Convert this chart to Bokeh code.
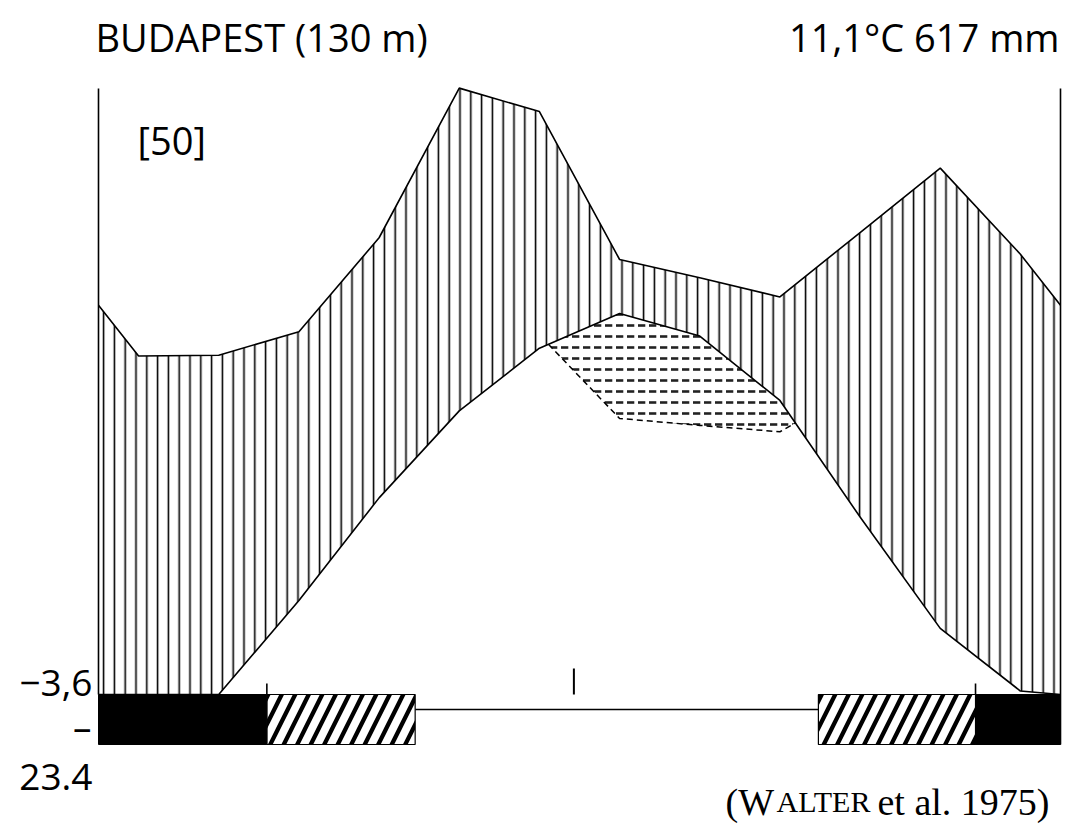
import numpy as np
from bokeh.plotting import figure
from bokeh.models import Range1d
from bokeh.core.properties import value
from bokeh.embed import file_html
from bokeh.resources import INLINE

# ---------------- data ----------------
months = ["Jan", "Feb", "Mar", "Apr", "May", "Jun",
          "Jul", "Aug", "Sep", "Oct", "Nov", "Dec"]
precip_mm = [38.9, 39.0, 41.7, 52.5, 69.7, 67.0, 50.0, 47.9, 45.7, 53.1, 60.5, 50.6]
temp_c = [-1.5, 0.0, 5.4, 11.3, 16.3, 19.9, 21.9, 20.6, 16.9, 10.2, 3.8, 0.2]

# dashed precipitation curve at the reduced scale (10 °C = 30 mm), Jun..Oct
dry_months = ["Jun", "Jul", "Aug", "Sep", "Oct"]
dry_curve_mm = [62.0, 47.6, 46.4, 45.3, 53.1]

# frost bar below the baseline (in months from 1 Jan)
cold_periods = [(0.0, 2.1), (10.94, 12.0)]      # mean daily minimum below 0 (black)
frost_periods = [(2.1, 3.95), (8.98, 10.94)]    # absolute minimum below 0 (hatched)
short_ticks = [2.1, 10.94]
long_ticks = [5.93]

station_label = "BUDAPEST (130 m)"
summary_label = "11,1°C 617 mm"
years_label = "[50]"
min_label = "\u22123,6"
abs_min_dash = "\u2013"
abs_min_label = "23.4"

# ---------------- geometry helpers (page px -> data) ----------------
PX_LEFT, PX_RIGHT, PX_BASE = 98.0, 1060.0, 694.0
PX_PER_MONTH = (PX_RIGHT - PX_LEFT) / 12.0
PX_PER_DEG = 17.4
W, H = 1064, 827
TDY = 12  # text baseline correction (px)


def X(px):
    return (px - PX_LEFT) / PX_PER_MONTH


def Y(py):
    return (PX_BASE - py) / PX_PER_DEG


def TY(py):
    return Y(py - TDY)


# Walter scale: 10 °C = 20 mm ; dry curve 10 °C = 30 mm
def wrap(vals):
    v = list(vals)
    edge = (v[0] + v[-1]) / 2.0
    return np.array([edge] + v + [edge])


xm = np.array([0.0] + list(np.arange(12) + 0.5) + [12.0])
prec = wrap(precip_mm) / 2.0
temp = np.maximum(wrap(temp_c), 0.0)

dry_idx = [months.index(m) for m in dry_months]
dry_x = np.array([i + 0.5 for i in dry_idx])
dry = np.array(dry_curve_mm) / 3.0
temp_on_dry = np.array([temp_c[i] for i in dry_idx])


def positive_regions(x, a, b):
    regions = []
    xs = top = bot = None
    for i in range(len(x)):
        d = a[i] - b[i]
        if i > 0:
            d0 = a[i - 1] - b[i - 1]
            if (d0 > 0) != (d > 0):
                t = d0 / (d0 - d)
                xc = x[i - 1] + t * (x[i] - x[i - 1])
                yc = a[i - 1] + t * (a[i] - a[i - 1])
                if d > 0:
                    xs, top, bot = [xc], [yc], [yc]
                else:
                    xs.append(xc); top.append(yc); bot.append(yc)
                    regions.append((xs, top, bot))
                    xs = None
        if d > 0:
            if xs is None:
                xs, top, bot = [], [], []
            xs.append(x[i]); top.append(a[i]); bot.append(b[i])
    if xs:
        regions.append((xs, top, bot))
    return regions


p = figure(width=W, height=H, output_backend="svg", toolbar_location=None,
           x_range=Range1d(X(0), X(W)), y_range=Range1d(Y(H), Y(0)),
           min_border=0, outline_line_color=None, x_axis_type=None, y_axis_type=None)
p.xgrid.visible = False
p.ygrid.visible = False
p.background_fill_color = "white"

# humid period: vertical hatching between precipitation and temperature
p.patch(list(xm) + list(xm[::-1]), list(prec) + list(temp[::-1]),
        fill_color="white", line_color=None,
        hatch_pattern="vertical_line", hatch_color="black",
        hatch_scale=10.8, hatch_weight=1.6)

# relatively dry period: temperature above the 10 °C = 30 mm curve
for xs, top, bot in positive_regions(dry_x, temp_on_dry, dry):
    p.patch(list(xs) + list(xs[::-1]), list(top) + list(bot[::-1]),
            fill_color="white", line_color=None,
            hatch_pattern="horizontal_dash", hatch_color="#222222",
            hatch_scale=11, hatch_weight=2.6)
    p.line(xs, bot, line_color="black", line_width=1.5, line_dash="6 4")

p.line(xm, prec, line_color="black", line_width=1.6)
p.line(xm, temp, line_color="black", line_width=1.6)

# frost bar
bar_bottom = Y(744)
p.segment(x0=[frost_periods[0][1]], y0=[Y(709)], x1=[frost_periods[1][0]], y1=[Y(709)],
          line_color="black", line_width=1.5)
p.quad(left=[a for a, b in frost_periods], right=[b for a, b in frost_periods],
       bottom=bar_bottom, top=0, fill_color="white", line_color="black", line_width=1.2,
       hatch_pattern="right_diagonal_line", hatch_color="black",
       hatch_scale=27, hatch_weight=4.3)
p.quad(left=[a for a, b in cold_periods], right=[b for a, b in cold_periods],
       bottom=bar_bottom, top=0, fill_color="black", line_color="black", line_width=1)

p.segment(x0=short_ticks, y0=[0] * len(short_ticks), x1=short_ticks,
          y1=[Y(683)] * len(short_ticks), line_color="black", line_width=1.6)
p.segment(x0=long_ticks, y0=[0] * len(long_ticks), x1=long_ticks,
          y1=[Y(668)] * len(long_ticks), line_color="black", line_width=2)

# side axes
p.segment(x0=[0, 12], y0=[0, bar_bottom], x1=[0, 12], y1=[Y(88), Y(88)],
          line_color="black", line_width=1.6)

# texts
sans = value("Open Sans")
p.text(x=[X(95)], y=[TY(48)], text=[station_label], text_font=sans,
       text_font_size="38px", text_align="left", text_baseline="alphabetic")
p.text(x=[X(1059)], y=[TY(48)], text=[summary_label], text_font=sans,
       text_font_size="38px", text_align="right", text_baseline="alphabetic")
p.text(x=[X(137)], y=[TY(151)], text=[years_label], text_font=sans,
       text_font_size="38px", text_align="left", text_baseline="alphabetic")
p.text(x=[X(92), X(92)], y=[TY(694), TY(788)], text=[min_label, abs_min_label],
       text_font=sans, text_font_size="37px", text_align="right",
       text_baseline="alphabetic")
p.text(x=[X(91)], y=[TY(738)], text=[abs_min_dash], text_font=sans,
       text_font_size="37px", text_align="right", text_baseline="alphabetic")

serif = value("Liberation Serif")
for txt, size, left in [("(W", 38, 725), ("ALTER", 30, 776), ("et al. 1975)", 38, 877)]:
    p.text(x=[X(left)], y=[TY(813)], text=[txt], text_font=serif,
           text_font_size=f"{size}px", text_align="left", text_baseline="alphabetic")

open("out.html", "w").write(file_html(p, INLINE))
